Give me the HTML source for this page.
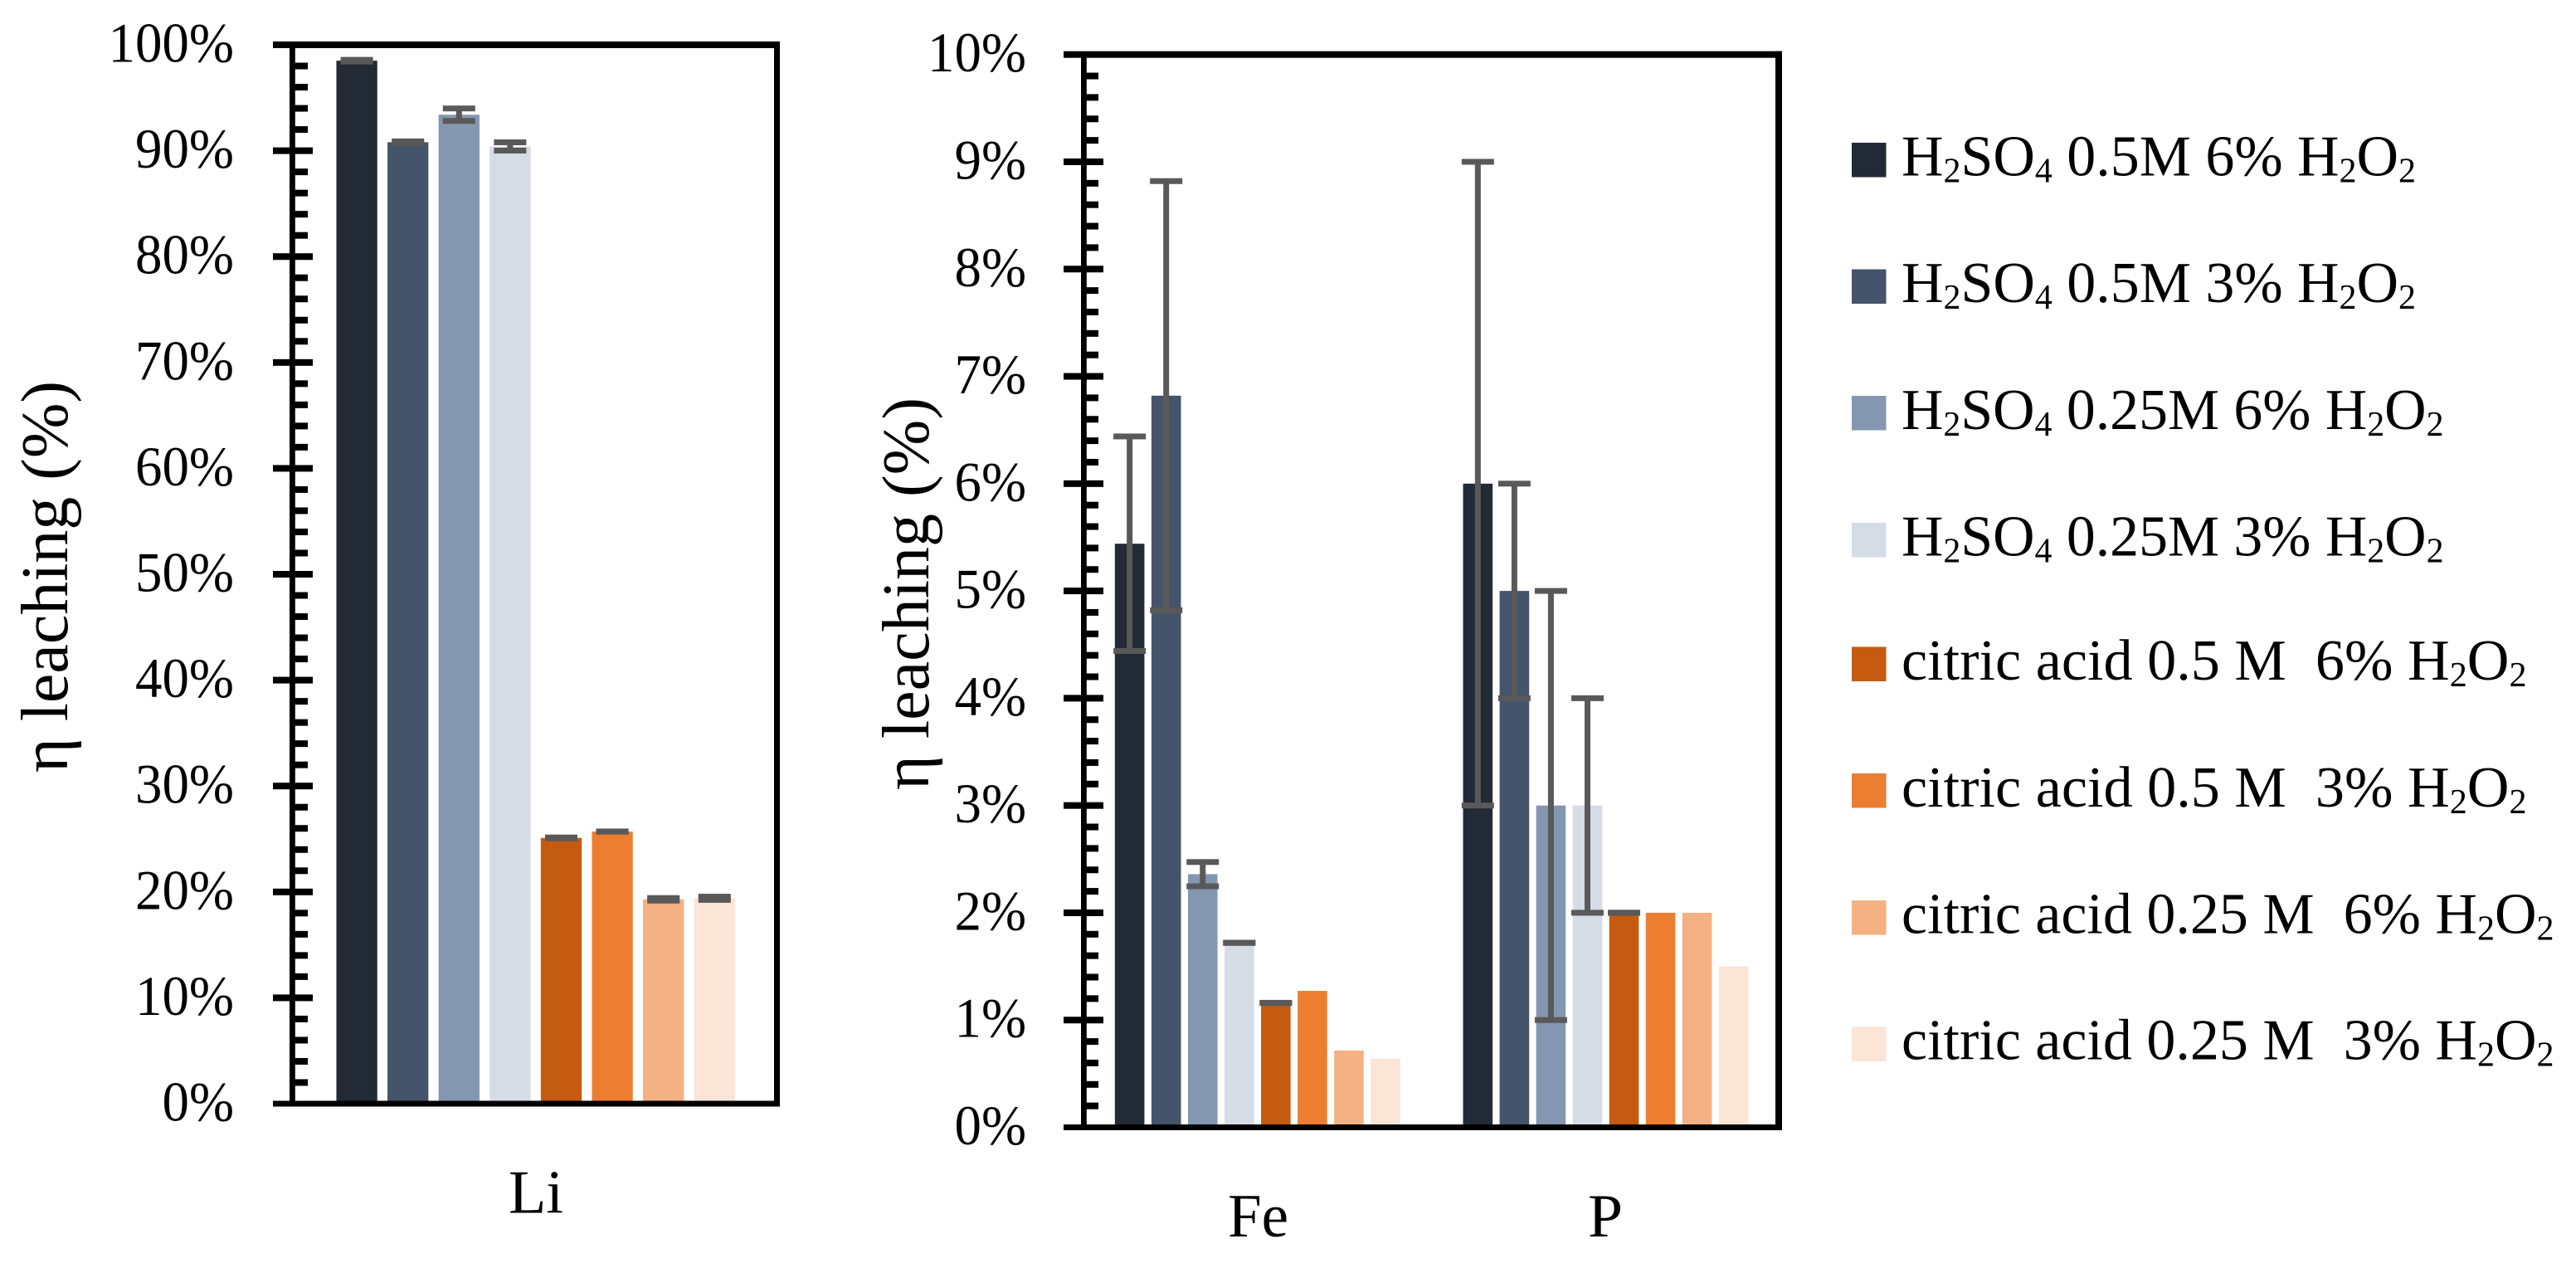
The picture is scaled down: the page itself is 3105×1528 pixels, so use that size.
<!DOCTYPE html>
<html lang="en">
<head>
<meta charset="utf-8">
<title>Leaching efficiency chart</title>
<style>
html,body{margin:0;padding:0;background:#fff;width:3105px;height:1528px;overflow:hidden}
svg{display:block}
text{font-family:"Liberation Serif",serif;fill:#000}
</style>
</head>
<body>
<svg id="chart" width="3105" height="1528" viewBox="0 0 3105 1528" xmlns="http://www.w3.org/2000/svg">
  <rect x="0" y="0" width="3105" height="1528" fill="#ffffff"/>
  <g id="left-panel"></g>
  <g id="right-panel"></g>
  <text transform="translate(81,931) rotate(-90)" font-size="80" textLength="472" lengthAdjust="spacingAndGlyphs">η leaching (%)</text>
  <text transform="translate(1119,952) rotate(-90)" font-size="80" textLength="473" lengthAdjust="spacingAndGlyphs">η leaching (%)</text>
  <g id="legend">
    <g>
      <rect x="2232" y="172" width="41.5" height="41.5" fill="#222A35"/>
      <text x="2292" y="211.5" font-size="70" textLength="620" lengthAdjust="spacingAndGlyphs">H<tspan font-size="42" dy="8">2</tspan><tspan dy="-8">SO</tspan><tspan font-size="42" dy="8">4</tspan><tspan dy="-8"> 0.5M 6% H</tspan><tspan font-size="42" dy="8">2</tspan><tspan dy="-8">O</tspan><tspan font-size="42" dy="8">2</tspan></text>
    </g>
    <g>
      <rect x="2232" y="324.5" width="41.5" height="41.5" fill="#44546A"/>
      <text x="2292" y="364" font-size="70" textLength="620" lengthAdjust="spacingAndGlyphs">H<tspan font-size="42" dy="8">2</tspan><tspan dy="-8">SO</tspan><tspan font-size="42" dy="8">4</tspan><tspan dy="-8"> 0.5M 3% H</tspan><tspan font-size="42" dy="8">2</tspan><tspan dy="-8">O</tspan><tspan font-size="42" dy="8">2</tspan></text>
    </g>
    <g>
      <rect x="2232" y="477" width="41.5" height="41.5" fill="#8497B0"/>
      <text x="2292" y="516.8" font-size="70" textLength="653.5" lengthAdjust="spacingAndGlyphs">H<tspan font-size="42" dy="8">2</tspan><tspan dy="-8">SO</tspan><tspan font-size="42" dy="8">4</tspan><tspan dy="-8"> 0.25M 6% H</tspan><tspan font-size="42" dy="8">2</tspan><tspan dy="-8">O</tspan><tspan font-size="42" dy="8">2</tspan></text>
    </g>
    <g>
      <rect x="2232" y="630" width="41.5" height="41.5" fill="#D6DCE5"/>
      <text x="2292" y="669.5" font-size="70" textLength="653.5" lengthAdjust="spacingAndGlyphs">H<tspan font-size="42" dy="8">2</tspan><tspan dy="-8">SO</tspan><tspan font-size="42" dy="8">4</tspan><tspan dy="-8"> 0.25M 3% H</tspan><tspan font-size="42" dy="8">2</tspan><tspan dy="-8">O</tspan><tspan font-size="42" dy="8">2</tspan></text>
    </g>
    <g>
      <rect x="2232" y="779.5" width="41.5" height="41.5" fill="#C55A11"/>
      <text x="2292" y="819" font-size="70" textLength="753.5" lengthAdjust="spacingAndGlyphs" xml:space="preserve">citric acid 0.5 M  6% H<tspan font-size="42" dy="8">2</tspan><tspan dy="-8">O</tspan><tspan font-size="42" dy="8">2</tspan></text>
    </g>
    <g>
      <rect x="2232" y="932" width="41.5" height="41.5" fill="#ED7D31"/>
      <text x="2292" y="972" font-size="70" textLength="753.5" lengthAdjust="spacingAndGlyphs" xml:space="preserve">citric acid 0.5 M  3% H<tspan font-size="42" dy="8">2</tspan><tspan dy="-8">O</tspan><tspan font-size="42" dy="8">2</tspan></text>
    </g>
    <g>
      <rect x="2232" y="1085" width="41.5" height="41.5" fill="#F4B183"/>
      <text x="2292" y="1124.6" font-size="70" textLength="786.5" lengthAdjust="spacingAndGlyphs" xml:space="preserve">citric acid 0.25 M  6% H<tspan font-size="42" dy="8">2</tspan><tspan dy="-8">O</tspan><tspan font-size="42" dy="8">2</tspan></text>
    </g>
    <g>
      <rect x="2232" y="1237.5" width="41.5" height="41.5" fill="#FBE5D6"/>
      <text x="2292" y="1276.5" font-size="70" textLength="786.5" lengthAdjust="spacingAndGlyphs" xml:space="preserve">citric acid 0.25 M  3% H<tspan font-size="42" dy="8">2</tspan><tspan dy="-8">O</tspan><tspan font-size="42" dy="8">2</tspan></text>
    </g>
  </g>
</svg>
<script>
// ---- data (percent) ----
const seriesNames = ['h2so4-0.5m-6','h2so4-0.5m-3','h2so4-0.25m-6','h2so4-0.25m-3','citric-0.5m-6','citric-0.5m-3','citric-0.25m-6','citric-0.25m-3'];
const seriesColors = ['#222A35','#44546A','#8497B0','#D6DCE5','#C55A11','#ED7D31','#F4B183','#FBE5D6'];
const liValues = [98.5,90.8,93.4,90.4,25.1,25.7,19.3,19.4];
const liErrors = [0.08,0.08,0.59,0.39,0.04,0.01,0.12,0.15];
const feValues = [5.44,6.82,2.36,1.72,1.16,1.272,0.716,0.64];
const feErrors = [1.0,2.0,0.113,0.001,0.001,0,0,0];
const pValues = [6,5,3,3,2,2,2,1.5];
const pErrors = [3,1,2,1,0.001,0,0,0];
const leftTicks = [0,10,20,30,40,50,60,70,80,90,100];
const rightTicks = [0,1,2,3,4,5,6,7,8,9,10];
const leftCategories = ['Li'];
const rightCategories = ['Fe','P'];

const NS = 'http://www.w3.org/2000/svg';
function make(parent, tag, attrs) {
  const el = document.createElementNS(NS, tag);
  for (const k in attrs) el.setAttribute(k, attrs[k]);
  parent.appendChild(el);
  return el;
}
function drawPanel(parent, cfg) {
  const y = v => cfg.yZero - (v / cfg.yMax) * (cfg.yZero - cfg.yTop);
  const barX = (c, i) => cfg.centers[c] + (i - 3.5) * cfg.step;

  // bars
  cfg.groups.forEach((group, c) => {
    group.values.forEach((v, i) => {
      const bar = make(parent, 'rect', {x: barX(c, i) - cfg.barW / 2, y: y(v), width: cfg.barW, height: cfg.yZero - y(v), fill: seriesColors[i]});
      
      
    });
  });
  // error bars
  cfg.groups.forEach((group, c) => {
    group.values.forEach((v, i) => {
      const e = group.errors[i];
      if (!e) return;
      const g = make(parent, 'g', {fill: '#595959'});
      
      
      const cx = barX(c, i);
      make(g, 'rect', {x: cx - 3.5, y: y(v + e), width: 7, height: y(v - e) - y(v + e)});
      make(g, 'rect', {x: cx - 19.5, y: y(v + e) - 3.5, width: 39, height: 7});
      make(g, 'rect', {x: cx - 19.5, y: y(v - e) - 3.5, width: 39, height: 7});
    });
  });
  // ticks
  const tickGroup = make(parent, 'g', {fill: '#000'});
  
  
  for (let t = 0; t < cfg.ticks.length - 1; t++) {
    for (let m = 1; m < 5; m++) {
      const v = cfg.ticks[t] + (cfg.ticks[t + 1] - cfg.ticks[t]) * m / 5;
      make(tickGroup, 'rect', {x: cfg.xLeft, y: y(v) - 4, width: cfg.minorEnd - cfg.xLeft, height: 8});
    }
  }
  cfg.ticks.forEach(t => {
    if (t !== 0 && t !== cfg.yMax) make(tickGroup, 'rect', {x: cfg.majorStart, y: y(t) - 4, width: cfg.majorEnd - cfg.majorStart, height: 8});
    const digits = String(t).length;
    const label = make(parent, 'text', {x: cfg.labelRight - (digits * 32.5 + 54), y: y(t) + 20.5, 'font-size': 68, textLength: digits * 32.5 + 54, lengthAdjust: 'spacingAndGlyphs'});
    
    
    label.textContent = t + '%';
  });
  // frame
  const frame = make(parent, 'g', {fill: '#000'});
  
  
  make(frame, 'rect', {x: cfg.xLeft - 3.4, y: cfg.yTop, width: 6.8, height: cfg.yZero - cfg.yTop});
  make(frame, 'rect', {x: cfg.xRight - cfg.rightW / 2, y: cfg.yTop - 4, width: cfg.rightW, height: cfg.yZero - cfg.yTop + 7});
  make(frame, 'rect', {x: cfg.majorStart, y: cfg.yTop - 4, width: cfg.xRight + cfg.rightW / 2 - cfg.majorStart, height: 8});
  make(frame, 'rect', {x: cfg.majorStart, y: cfg.yZero - 3.5, width: cfg.xRight + cfg.rightW / 2 - cfg.majorStart, height: 7});
  // category labels
  cfg.cats.forEach((name, c) => {
    const label = make(parent, 'text', {x: cfg.catX[c], y: cfg.catY, 'font-size': 74, 'text-anchor': 'middle', textLength: cfg.catW[c], lengthAdjust: 'spacingAndGlyphs'});
    
    
    label.textContent = name;
  });
}

drawPanel(document.getElementById('left-panel'), {
  yTop: 54, yZero: 1330, yMax: 100, ticks: leftTicks, cats: leftCategories,
  centers: [645.7], step: 61.6, barW: 49.3,
  groups: [{values: liValues, errors: liErrors}],
  xLeft: 352.4, xRight: 936.5, rightW: 7, majorStart: 329, majorEnd: 377, minorEnd: 371,
  labelRight: 282, catX: [646], catW: [66], catY: 1461.5
});
drawPanel(document.getElementById('right-panel'), {
  yTop: 65.7, yZero: 1358.5, yMax: 10, ticks: rightTicks, cats: rightCategories,
  centers: [1515.8, 1935.5], step: 44.05, barW: 35.6,
  groups: [{values: feValues, errors: feErrors}, {values: pValues, errors: pErrors}],
  xLeft: 1306.4, xRight: 2144, rightW: 8, majorStart: 1282, majorEnd: 1330, minorEnd: 1324,
  labelRight: 1237, catX: [1516.5, 1935], catW: [73, 42], catY: 1490
});
</script>
</body>
</html>
